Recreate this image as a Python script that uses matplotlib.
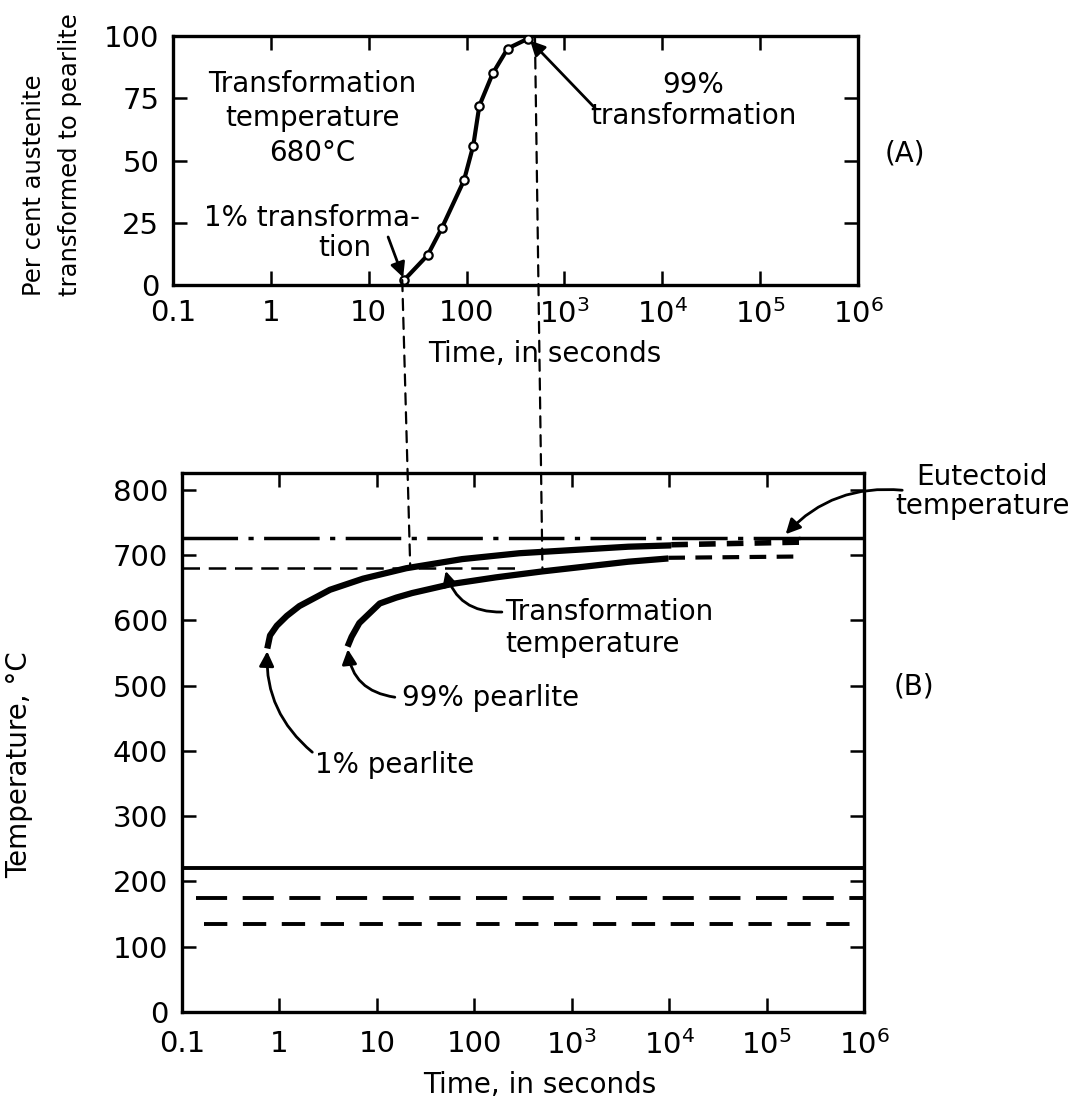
import numpy as np
import matplotlib.pyplot as plt
from matplotlib.patches import ConnectionPatch

plt.rcParams['font.family'] = ['DejaVu Sans']

# (A) transformation curve at 680 C
t_pts = [23, 40, 56, 94, 117, 135, 185, 263, 426]
pct_pts = [2, 12, 23, 42, 56, 72, 85, 95, 99]

# (B) 1% and 99% pearlite curves
t1 = [0.75, 0.80, 0.94, 1.19, 1.6, 3.3, 7.2, 20, 75, 290, 3800, 10500]
T1 = [557, 577, 592, 607, 622, 647, 664, 680, 694, 703, 713, 715]
t1_dash = [10500, 2.2e5]
T1_dash = [716, 720]

t99 = [5.0, 5.5, 6.6, 8.4, 10.7, 15.8, 23, 59, 166, 490, 3800, 9800]
T99 = [560, 575, 596, 611, 626, 635, 642, 656, 666, 675, 690, 695]
t99_dash = [9800, 2.2e5]
T99_dash = [696, 698]

eut_T = 727
eut_break = 2.2e5
trans_T = 680
trans_end = 300
ms_T = 220
m50_T = 175
m90_T = 135
m50_start = 0.14
m90_start = 0.17

t_start = 22
t_finish = 500

xticks = [0.1, 1, 10, 100, 1e3, 1e4, 1e5, 1e6]
xlabels = ['0.1', '1', '10', '100', r'$\mathregular{10^3}$', r'$\mathregular{10^4}$',
           r'$\mathregular{10^5}$', r'$\mathregular{10^6}$']

fig = plt.figure(figsize=(10.74, 11.03), dpi=100)
ax1 = fig.add_axes([0.1611, 0.7416, 0.6378, 0.2257])
ax2 = fig.add_axes([0.1695, 0.0825, 0.6350, 0.4887])

fs = 20

for ax in (ax1, ax2):
    ax.set_xscale('log')
    ax.set_xlim(0.1, 1e6)
    ax.set_xticks(xticks)
    ax.set_xticklabels(xlabels)
    ax.minorticks_off()
    ax.tick_params(direction='in', length=10, width=1.8, labelsize=21,
                   top=True, right=True, pad=10)
    for s in ax.spines.values():
        s.set_linewidth(2.4)

# ----- top plot
ax1.set_ylim(0, 100)
ax1.set_yticks([0, 25, 50, 75, 100])
ax1.plot(t_pts, pct_pts, '-', color='black', lw=3, zorder=3)
ax1.plot(t_pts, pct_pts, 'o', ms=6, mfc='white', mec='black', mew=1.6, zorder=4)
ax1.set_xlabel('Time, in seconds', fontsize=fs)
ax1.xaxis.set_label_coords(0.542, -0.22)
fig.text(52 / 1074, 1 - 296 / 1103, 'Per cent austenite\ntransformed to pearlite',
         rotation=90, ha='center', va='bottom', multialignment='left',
         fontsize=17.5, linespacing=1.6)

ax1.text(0.203, 0.67, 'Transformation\ntemperature\n680°C', transform=ax1.transAxes,
         ha='center', va='center', fontsize=fs, linespacing=1.3)
ax1.text(0.203, 0.269, '1% transforma-', transform=ax1.transAxes,
         ha='center', va='center', fontsize=fs)
ax1.text(0.251, 0.149, 'tion', transform=ax1.transAxes,
         ha='center', va='center', fontsize=fs)
ax1.text(0.76, 0.74, '99%\ntransformation', transform=ax1.transAxes,
         ha='center', va='center', fontsize=fs, linespacing=1.15)
ax1.text(1.069, 0.53, '(A)', transform=ax1.transAxes,
         ha='center', va='center', fontsize=fs)

arrow = dict(arrowstyle='-|>', color='black', lw=2, mutation_scale=22, shrinkA=0, shrinkB=2)
ax1.annotate('', xy=(t_pts[0], pct_pts[0]), xytext=(0.314, 0.193),
             textcoords='axes fraction', arrowprops=arrow)
ax1.annotate('', xy=(t_pts[-1], pct_pts[-1]), xytext=(0.616, 0.711),
             textcoords='axes fraction', arrowprops=arrow)

# ----- bottom plot
ax2.set_ylim(0, 826)
ax2.set_yticks(range(0, 801, 100))
ax2.tick_params(axis='x', pad=13)
ax2.set_xlabel('Time, in seconds', fontsize=fs)
ax2.xaxis.set_label_coords(0.525, -0.11)
ax2.set_ylabel('Temperature, °C', fontsize=fs)
ax2.yaxis.set_label_coords(-0.218, 0.458)

ax2.plot([0.1, eut_break], [eut_T, eut_T], color='black', lw=2.5,
         ls=(0, (16, 3, 1.5, 3)))
ax2.plot([eut_break, 1e6], [eut_T, eut_T], color='black', lw=2.5)
ax2.plot([0.1, trans_end], [trans_T, trans_T], color='black', lw=1.8, ls=(0, (7, 3.5)))

ax2.plot(t1, T1, color='black', lw=4.5, solid_capstyle='butt', solid_joinstyle='round')
ax2.plot(t1_dash, T1_dash, color='black', lw=4, ls=(0, (3, 2)))
ax2.plot(t99, T99, color='black', lw=4.5, solid_capstyle='butt', solid_joinstyle='round')
ax2.plot(t99_dash, T99_dash, color='black', lw=3, ls=(0, (4, 2.5)))

ax2.plot([0.1, 1e6], [ms_T, ms_T], color='black', lw=2.8)
ax2.plot([m50_start, 1e6], [m50_T, m50_T], color='black', lw=2.8, ls=(0, (8, 4)))
ax2.plot([m90_start, 1e6], [m90_T, m90_T], color='black', lw=2.8, ls=(0, (6, 4)))

ax2.text(1.173, 0.965, 'Eutectoid\ntemperature', transform=ax2.transAxes,
         ha='center', va='center', fontsize=fs, linespacing=1.05)
ax2.text(0.474, 0.712, 'Transformation\ntemperature', transform=ax2.transAxes,
         ha='left', va='center', fontsize=fs, linespacing=1.2)
ax2.text(0.323, 0.583, '99% pearlite', transform=ax2.transAxes,
         ha='left', va='center', fontsize=fs)
ax2.text(0.195, 0.458, '1% pearlite', transform=ax2.transAxes,
         ha='left', va='center', fontsize=fs)
ax2.text(1.073, 0.603, '(B)', transform=ax2.transAxes,
         ha='center', va='center', fontsize=fs)

ax2.annotate('', xy=(1.5e5, eut_T + 2), xytext=(1.056, 0.968), textcoords='axes fraction',
             arrowprops=dict(arrow, connectionstyle='arc3,rad=0.25'), annotation_clip=False)
ax2.annotate('', xy=(50, trans_T), xytext=(0.469, 0.742), textcoords='axes fraction',
             arrowprops=dict(arrow, connectionstyle='arc3,rad=-0.4'))
ax2.annotate('', xy=(t99[0], T99[0]), xytext=(0.312, 0.584), textcoords='axes fraction',
             arrowprops=dict(arrow, connectionstyle='arc3,rad=-0.4'))
ax2.annotate('', xy=(t1[0], T1[0]), xytext=(0.191, 0.482), textcoords='axes fraction',
             arrowprops=dict(arrow, connectionstyle='arc3,rad=-0.25'))

# dashed connectors between the two plots
for t, p in [(t_start, pct_pts[0]), (t_finish, pct_pts[-1])]:
    con = ConnectionPatch(xyA=(t, p), coordsA=ax1.transData,
                          xyB=(t, trans_T), coordsB=ax2.transData,
                          color='black', lw=1.6, ls=(0, (5, 3.5)))
    fig.add_artist(con)

fig.savefig('out.png', dpi=100)
